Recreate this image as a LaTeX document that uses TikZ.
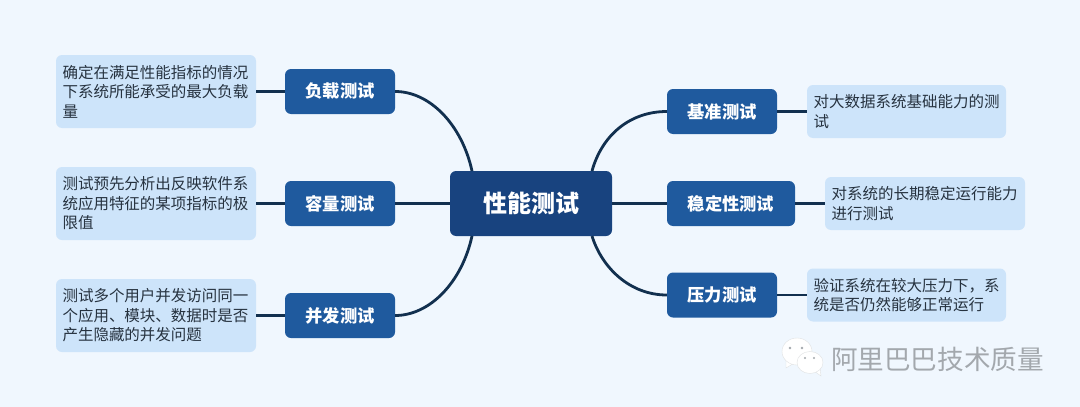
\documentclass[tikz,border=0pt]{standalone}
\usepackage{fontspec}
\setmainfont{Noto Sans CJK SC}
\definecolor{bgc}{HTML}{F0F7FE}
\definecolor{rootc}{HTML}{18437F}
\definecolor{topicc}{HTML}{1F5A9E}
\definecolor{detailc}{HTML}{CDE4FA}
\definecolor{linec}{HTML}{12304F}
\definecolor{textc}{HTML}{26323F}
\definecolor{markc}{HTML}{A3A8AD}
\tikzset{
  x=1pt,y=-1pt,
  rootbox/.style={fill=rootc,rounded corners=6pt,text=white,minimum width=162pt,minimum height=65pt,inner sep=0pt,font=\fontsize{24}{28}\selectfont\bfseries},
  topicbox/.style={fill=topicc,rounded corners=6pt,text=white,minimum height=45pt,inner sep=0pt,font=\fontsize{17.3}{21}\selectfont\bfseries},
  detailbox/.style={fill=detailc,rounded corners=6pt,text=textc,inner xsep=6.5pt,inner ysep=0pt,align=left,font=\fontsize{15.5}{19.5}\selectfont},
  link/.style={draw=linec,line width=2.8pt},
  thin link/.style={draw=linec,line width=2.2pt},
  bubble/.style={fill=white,draw=markc!35,line width=0.4pt},
}
\begin{document}
\begin{tikzpicture}
\useasboundingbox[fill=bgc] (0,0) rectangle (1080,407);
% root
\node[rootbox] (root) at (531,203.5) {性能测试};
\coordinate (rtl) at (472,171);
\coordinate (rbl) at (472,236);
\coordinate (rtr) at (592,171);
\coordinate (rbr) at (592,236);
% left topics
\node[topicbox,minimum width=110pt] (l1) at (340,91.5) {负载测试};
\node[topicbox,minimum width=110pt] (l2) at (340,203.5) {容量测试};
\node[topicbox,minimum width=110pt] (l3) at (340,315.5) {并发测试};
% right topics
\node[topicbox,minimum width=110pt] (r1) at (722,111.5) {基准测试};
\node[topicbox,minimum width=128pt] (r2) at (731,203.5) {稳定性测试};
\node[topicbox,minimum width=110pt] (r3) at (722,295) {压力测试};
% left details
\node[detailbox,text width=187pt,minimum height=73pt] (d1) at (156,91.5) {确定在满足性能指标的情况\\下系统所能承受的最大负载\\量};
\node[detailbox,text width=187pt,minimum height=73pt] (d2) at (156,203.5) {测试预先分析出反映软件系\\统应用特征的某项指标的极\\限值};
\node[detailbox,text width=187pt,minimum height=73pt] (d3) at (156,315.5) {测试多个用户并发访问同一\\个应用、模块、数据时是否\\产生隐藏的并发问题};
% right details
\node[detailbox,text width=186pt,minimum height=53pt] (e1) at (906.5,111.5) {对大数据系统基础能力的测\\试};
\node[detailbox,text width=187pt,minimum height=53pt] (e2) at (925,203.5) {对系统的长期稳定运行能力\\进行测试};
\node[detailbox,text width=186pt,minimum height=53pt] (e3) at (906.5,295) {验证系统在较大压力下，系\\统是否仍然能够正常运行};
% connectors
\draw[link] (root.west) -- (l2.east);
\draw[link] (root.east) -- (r2.west);
\draw[link] (rtl) .. controls (462,125) and (430,91.5) .. (l1.east);
\draw[link] (rbl) .. controls (462,282) and (430,315.5) .. (l3.east);
\draw[link] (rtr) .. controls (602,135) and (630,111.5) .. (r1.west);
\draw[link] (rbr) .. controls (602,268) and (630,295) .. (r3.west);
\draw[thin link] (l1.west) -- (d1.east);
\draw[thin link] (l2.west) -- (d2.east);
\draw[thin link] (l3.west) -- (d3.east);
\draw[thin link] (r1.east) -- (e1.west);
\draw[thin link] (r2.east) -- (e2.west);
\draw[thin link] (r3.east) -- (e3.west);
% watermark
\draw[bubble] (786,358) -- (786,368) -- (796,362) -- cycle;
\draw[bubble] (797,351.5) ellipse (15pt and 13.5pt);
\fill[markc] (790,348) circle (1.3pt) (802,348) circle (1.3pt);
\draw[bubble] (814,371) -- (821,376) -- (820,367) -- cycle;
\draw[bubble] (810,362.5) ellipse (13pt and 11pt);
\fill[markc] (805,358) circle (1.2pt) (814,358) circle (1.2pt);
\node[text=markc,inner sep=0pt,font=\fontsize{26.6}{30}\selectfont] (mark) at (937.5,359) {阿里巴巴技术质量};
\end{tikzpicture}
\end{document}
